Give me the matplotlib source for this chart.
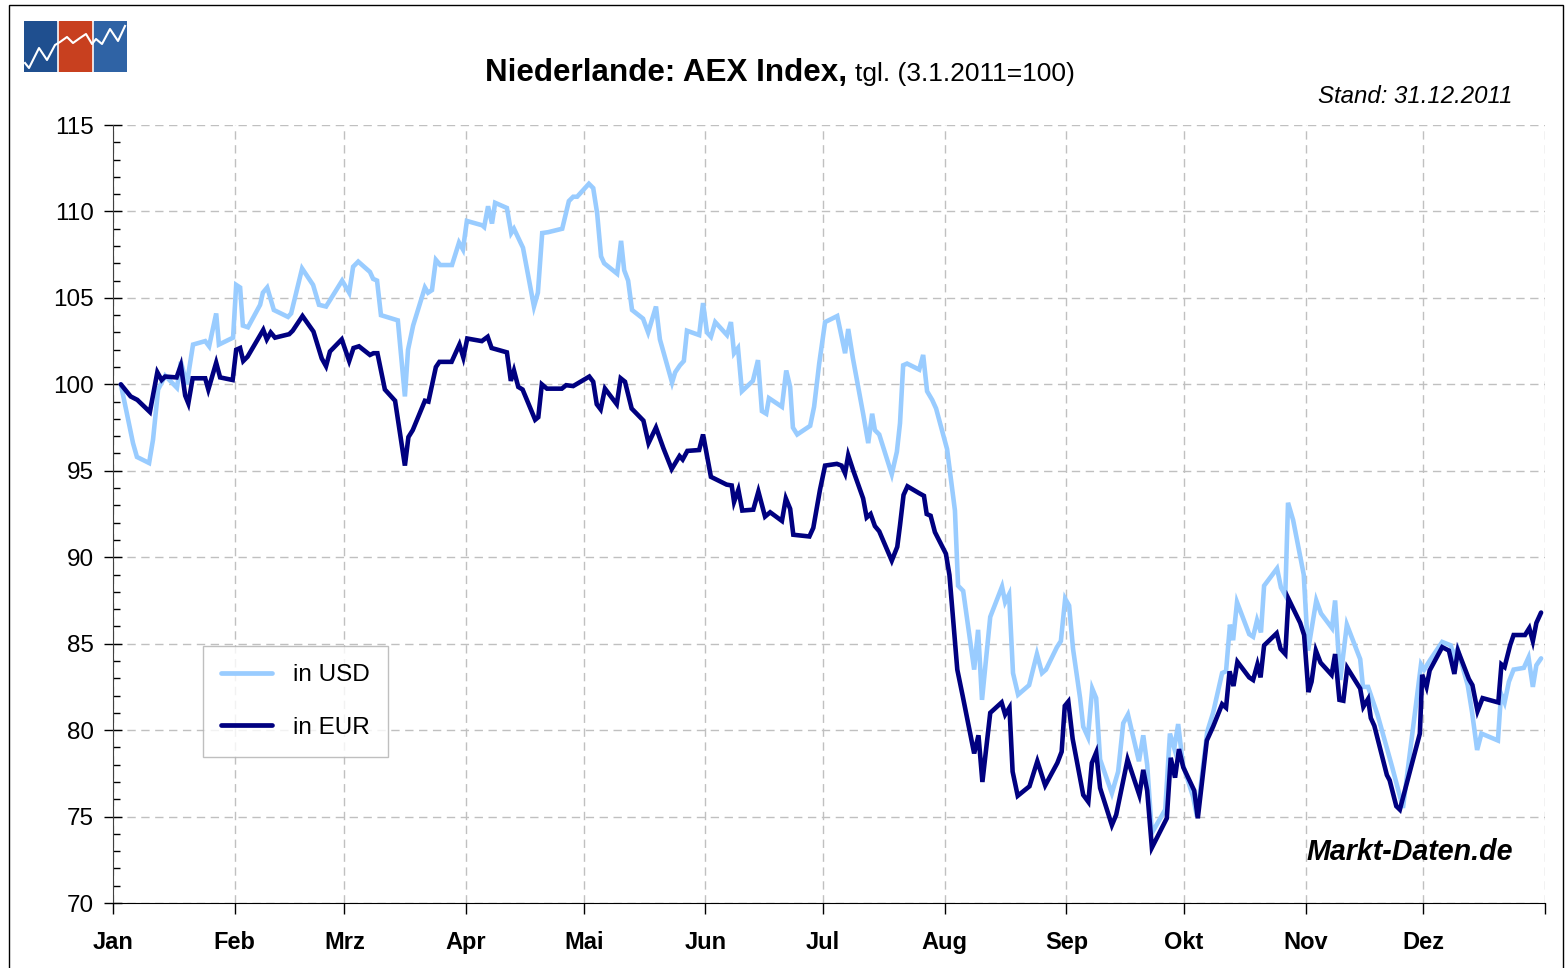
import matplotlib
matplotlib.use("Agg")
import matplotlib.pyplot as plt
from matplotlib.patches import Rectangle
from matplotlib.lines import Line2D

plt.rcParams['font.family'] = ['Liberation Sans', 'DejaVu Sans']

# day of year (0 = 1 Jan 2011) and index values
day_usd = [2.0, 5.1, 6.1, 9.2, 10.2, 11.5, 13.3, 16.3, 17.3, 18.8, 20.4, 23.5, 24.5, 26.3, 27.0,
           30.6, 31.4, 32.4, 33.1, 34.4, 37.5, 38.2, 39.3, 41.0, 44.6, 45.4, 48.2, 51.0, 52.5, 54.3,
           58.4, 60.2, 61.2, 62.5, 65.5, 66.3, 67.3, 68.3, 72.6, 74.4, 75.2, 76.5, 79.5, 80.3, 81.3,
           82.3, 83.4, 86.4, 88.2, 89.2, 90.2, 94.1, 94.6, 95.6, 96.6, 97.4, 100.4, 101.5, 102.2,
           104.5, 107.3, 108.3, 109.4, 110.9, 114.5, 116.2, 117.3, 118.3, 121.3, 122.4, 123.4, 124.4,
           125.2, 128.5, 129.5, 130.3, 131.3, 132.3, 135.1, 136.4, 138.4, 139.4, 142.5, 143.3, 144.5,
           145.5, 146.3, 149.4, 150.4, 151.4, 152.4, 153.5, 156.5, 157.5, 158.3, 159.3, 160.3, 163.1,
           164.4, 165.4, 166.5, 167.2, 170.5, 171.6, 172.6, 173.3, 174.4, 177.7, 178.7, 180.0, 181.5,
           184.6, 186.6, 187.4, 188.6, 191.2, 192.5, 193.5, 194.2, 195.3, 198.5, 199.8, 200.6, 201.4,
           202.4, 205.5, 206.5, 207.5, 208.8, 209.8, 212.6, 214.6, 215.4, 216.7, 219.5, 220.5, 221.5,
           223.6, 226.6, 227.4, 228.4, 229.4, 230.7, 233.5, 235.5, 236.8, 237.8, 240.6, 241.6, 242.7,
           243.7, 244.7, 246.5, 247.3, 248.5, 249.6, 250.6, 251.6, 254.6, 256.2, 257.5, 258.7, 261.5,
           262.6, 263.6, 264.8, 268.2, 269.4, 270.5, 271.5, 272.7, 275.3, 276.3, 278.9, 280.4, 282.7,
           283.7, 284.7, 285.5, 286.5, 289.6, 290.6, 291.6, 292.6, 293.4, 296.7, 297.7, 298.8, 299.5,
           300.8, 303.5, 304.6, 306.7, 307.9, 310.7, 311.5, 312.8, 314.5, 317.9, 318.6, 319.9, 322.3,
           326.0, 328.8, 333.4, 334.2, 335.7, 338.8, 341.0, 341.8, 342.7, 345.3, 346.4, 347.7, 348.8,
           353.0, 353.8, 354.7, 355.8, 357.0, 359.6, 360.8, 361.9, 362.8, 364.0]
usd = [100.0, 96.6, 95.8, 95.45, 96.8, 99.7, 100.5, 99.8, 101.3, 100.0, 102.3, 102.5, 102.2, 104.1, 102.3,
       102.7, 105.75, 105.6, 103.4, 103.3, 104.6, 105.3, 105.6, 104.3, 103.9, 104.1, 106.7, 105.75, 104.6, 104.5,
       106.0, 105.3, 106.8, 107.1, 106.5, 106.1, 106.0, 104.0, 103.7, 99.3, 102.0, 103.4, 105.6, 105.3, 105.45,
       107.2, 106.9, 106.9, 108.2, 107.8, 109.45, 109.2, 109.1, 110.3, 109.3, 110.5, 110.2, 108.75, 109.0,
       107.9, 104.5, 105.3, 108.75, 108.8, 109.0, 110.6, 110.85, 110.85, 111.6, 111.35, 109.9, 107.4,
       107.0, 106.4, 108.3, 106.6, 106.0, 104.3, 103.8, 103.0, 104.5, 102.6, 100.1, 100.7, 101.1,
       101.35, 103.1, 102.85, 104.7, 103.0, 102.75, 103.6, 102.85, 103.6, 101.8, 102.1, 99.6, 100.2,
       101.4, 98.45, 98.3, 99.2, 98.7, 100.8, 99.85, 97.5, 97.1, 97.6, 98.7, 101.2, 103.6,
       103.95, 101.8, 103.2, 101.5, 98.3, 96.6, 98.3, 97.35, 97.1, 94.8, 96.1, 97.75, 101.1,
       101.2, 100.85, 101.7, 99.6, 99.1, 98.6, 96.25, 92.7, 88.35, 88.05, 83.5, 85.8, 81.75,
       86.55, 88.3, 87.4, 87.85, 83.3, 82.05, 82.6, 84.4, 83.3, 83.5, 84.8, 85.15, 87.6,
       87.2, 84.7, 81.85, 80.2, 79.6, 82.4, 81.85, 78.3, 76.35, 77.6, 80.4, 80.9, 78.2,
       79.7, 78.0, 74.05, 75.4, 79.8, 78.95, 80.35, 78.0, 76.15, 75.0, 79.9, 81.0, 83.3,
       83.4, 86.1, 85.2, 87.4, 85.55, 85.4, 86.35, 85.65, 88.35, 89.35, 88.25, 87.8, 93.15,
       92.15, 89.0, 84.6, 87.5, 86.75, 85.9, 87.5, 82.9, 86.1, 84.1, 82.5, 82.5, 80.9,
       77.9, 75.5, 83.8, 83.5, 84.05, 85.1, 84.9, 84.25, 84.7, 82.6, 81.05, 78.85, 79.8,
       79.4, 82.1, 81.6, 82.8, 83.5, 83.6, 84.2, 82.5, 83.75, 84.15]

day_eur = [2.0, 4.5, 6.2, 9.4, 11.3, 12.4, 13.3, 16.2, 17.3, 18.4, 19.2, 20.3, 23.5, 24.3, 26.3, 27.3,
           30.5, 31.4, 32.4, 33.2, 34.3, 38.3, 39.2, 40.2, 41.3, 44.9, 45.8, 48.3, 51.1, 53.2, 54.3,
           55.3, 58.3, 60.2, 61.3, 62.7, 65.5, 66.4, 67.4, 69.3, 71.9, 74.4, 75.3, 76.4, 79.5, 80.4,
           82.3, 83.2, 86.3, 88.3, 89.3, 90.3, 94.0, 95.5, 96.5, 100.4, 101.4, 102.2, 103.3, 104.4,
           107.6, 108.4, 109.3, 110.6, 114.4, 115.5, 117.3, 121.4, 122.4, 123.3, 124.3, 125.4, 128.4,
           129.4, 130.5, 132.2, 135.2, 136.5, 138.4, 140.3, 142.4, 144.4, 145.2, 146.4, 149.4, 150.4,
           152.4, 156.4, 157.7, 158.3, 159.4, 160.4, 163.2, 164.5, 166.2, 167.5, 170.5, 171.5, 172.6,
           173.4, 177.5, 178.5, 180.2, 181.5, 184.5, 185.7, 186.6, 187.4, 188.7, 191.2, 192.1, 193.1,
           194.2, 195.3, 198.5, 199.9, 200.6, 201.5, 202.5, 205.5, 206.7, 207.4, 208.4, 209.5, 212.3,
           213.2, 215.2, 216.6, 219.5, 220.6, 221.6, 223.6, 226.5, 227.4, 228.5, 229.3, 230.6, 233.6,
           235.6, 237.6, 240.7, 241.8, 242.6, 243.5, 244.6, 247.3, 248.6, 249.5, 250.6, 251.6, 254.6,
           255.7, 258.6, 261.6, 262.6, 263.6, 264.8, 268.6, 269.6, 270.7, 271.7, 272.8, 275.6, 276.5,
           278.8, 280.4, 282.7, 283.7, 284.6, 285.6, 286.6, 289.6, 290.6, 291.7, 292.5, 293.4, 296.6,
           297.6, 298.8, 299.6, 302.6, 303.6, 304.7, 305.5, 306.6, 307.8, 310.6, 311.5, 312.6, 313.6,
           314.6, 317.9, 318.7, 319.9, 320.6, 321.5, 324.7, 325.4, 327.1, 328.0, 333.1, 333.7, 334.8,
           335.6, 338.8, 340.5, 341.9, 342.8, 345.6, 346.5, 347.8, 349.1, 353.1, 353.9, 354.7, 356.1,
           357.0, 359.9, 361.0, 361.9, 362.8, 364.0]
eur = [100.0, 99.3, 99.1, 98.4, 100.7, 100.25, 100.45, 100.4, 101.1, 99.35, 98.9, 100.35, 100.35, 99.7, 101.25, 100.4,
       100.25, 102.0, 102.1, 101.35, 101.6, 103.15, 102.6, 103.0, 102.7, 102.9, 103.1, 103.95, 103.05, 101.5, 101.05,
       101.9, 102.6, 101.35, 102.1, 102.2, 101.7, 101.8, 101.8, 99.7, 99.05, 95.3, 96.95, 97.35, 99.05, 99.0,
       101.0, 101.3, 101.3, 102.3, 101.55, 102.65, 102.5, 102.75, 102.1, 101.85, 100.2, 100.8, 99.85, 99.7,
       97.95, 98.1, 100.0, 99.75, 99.75, 99.95, 99.9, 100.45, 100.15, 98.85, 98.55, 99.75, 98.85,
       100.35, 100.15, 98.6, 97.9, 96.6, 97.5, 96.3, 95.1, 95.85, 95.65, 96.15, 96.2, 97.1,
       94.65, 94.2, 94.15, 93.2, 93.9, 92.7, 92.75, 93.8, 92.35, 92.6, 92.1, 93.4, 92.8,
       91.3, 91.2, 91.7, 93.9, 95.3, 95.4, 95.3, 94.85, 95.9, 95.0, 93.4, 92.3, 92.5,
       91.8, 91.5, 89.8, 90.6, 91.85, 93.6, 94.1, 93.7, 93.55, 92.5, 92.4, 91.45, 90.2,
       88.97, 83.5, 81.95, 78.65, 79.7, 77.0, 81.0, 81.6, 80.9, 81.3, 77.6, 76.2, 76.75,
       78.2, 76.8, 78.1, 78.75, 81.4, 81.65, 79.5, 76.25, 75.85, 78.1, 78.7, 76.65, 74.5,
       75.1, 78.3, 76.25, 77.7, 76.5, 73.2, 74.9, 78.4, 77.25, 78.9, 77.85, 76.5, 74.9,
       79.4, 80.2, 81.5, 81.3, 83.4, 82.55, 83.95, 83.05, 82.9, 83.8, 83.05, 84.9, 85.6,
       84.7, 84.4, 87.6, 86.2, 85.5, 82.2, 82.8, 84.6, 83.9, 83.2, 84.4, 81.75, 81.7,
       83.6, 82.4, 81.35, 81.8, 80.7, 80.25, 77.4, 77.1, 75.6, 75.4, 79.8, 83.2, 82.5,
       83.45, 84.8, 84.6, 83.25, 84.6, 82.95, 82.6, 81.1, 81.85, 81.6, 83.8, 83.65, 84.9,
       85.5, 85.5, 85.9, 85.15, 86.2, 86.8]

month_starts = [0, 31, 59, 90, 120, 151, 181, 212, 243, 273, 304, 334, 365]
month_labels = ['Jan', 'Feb', 'Mrz', 'Apr', 'Mai', 'Jun', 'Jul', 'Aug', 'Sep', 'Okt', 'Nov', 'Dez']

W, H = 1568, 968
fig = plt.figure(figsize=(W / 100, H / 100), dpi=100)
ax = fig.add_axes([113 / W, 1 - 903 / H, (1545 - 113) / W, (903 - 125) / H])

ax.plot(day_usd, usd, color='#99ccff', lw=3.3, label='in USD', solid_joinstyle='miter',
        solid_capstyle='round', zorder=3)
ax.plot(day_eur, eur, color='#000080', lw=3.3, label='in EUR', solid_joinstyle='miter',
        solid_capstyle='round', zorder=4)

ax.set_xlim(0, 365)
ax.set_ylim(70, 115)
ax.set_yticks(range(70, 116, 5))
ax.set_yticks(range(70, 116, 1), minor=True)
ax.set_xticks(month_starts)
ax.set_xticklabels(month_labels + [''], fontsize=17, fontweight='bold')
ax.tick_params(axis='y', which='major', direction='inout', length=13, width=1, labelsize=17.5, pad=7.5)
ax.tick_params(axis='y', which='minor', direction='in', length=5, width=1)
ax.tick_params(axis='x', which='major', direction='out', length=8, width=1, pad=12)

ax.grid(True, which='major', color='#c0c0c0', linestyle=(0, (6, 4)), linewidth=1)
for s in ['top', 'right']:
    ax.spines[s].set_visible(False)
ax.spines['left'].set_color('#404040')
ax.spines['bottom'].set_color('black')

leg = ax.legend(loc='upper left', bbox_to_anchor=((203 - 113) / 1432, (903 - 646) / 778),
                borderaxespad=0, fontsize=17.5, frameon=True, fancybox=False, edgecolor='#b0b0b0',
                handlelength=2.1, labelspacing=1.25, borderpad=0.75, handletextpad=0.85)
leg.get_frame().set_linewidth(1)
for h in leg.get_lines():
    h.set_linewidth(3.4)

# title
fig.text(485 / W, 1 - 81 / H, 'Niederlande: AEX Index,', fontsize=22.6, fontweight='bold', va='baseline', ha='left')
fig.text(855 / W, 1 - 81 / H, 'tgl. (3.1.2011=100)', fontsize=19, va='baseline', ha='left')
fig.text(1513 / W, 1 - 103 / H, 'Stand: 31.12.2011', fontsize=17.3, style='italic', ha='right', va='baseline')
fig.text(1513 / W, 1 - 860 / H, 'Markt-Daten.de', fontsize=20.6, style='italic', fontweight='bold',
         ha='right', va='baseline')

# outer frame
fig.patches.append(Rectangle((9 / W, -0.01), (1563 - 9) / W, 1 - 5 / H + 0.01, transform=fig.transFigure,
                             fill=False, edgecolor='black', linewidth=1))

# logo
lax = fig.add_axes([24 / W, 1 - 72 / H, (127 - 24) / W, (72 - 21) / H])
lax.set_xlim(0, 103)
lax.set_ylim(0, 51)
lax.axis('off')
for x0, c in [(0, '#1f4f8f'), (35, '#c8401f'), (70, '#2f63a5')]:
    lax.add_patch(Rectangle((x0, 0), 32, 51, color=c))
lax.add_line(Line2D([1, 5, 15, 23, 31, 36, 43, 49, 56, 62, 68, 72, 78, 86, 94, 101],
                    [9, 4, 24, 12, 27, 30, 35, 29, 34, 38, 28, 33, 28, 43, 31, 46],
                    color='white', lw=1.5))

fig.savefig('out.png', dpi=100)
